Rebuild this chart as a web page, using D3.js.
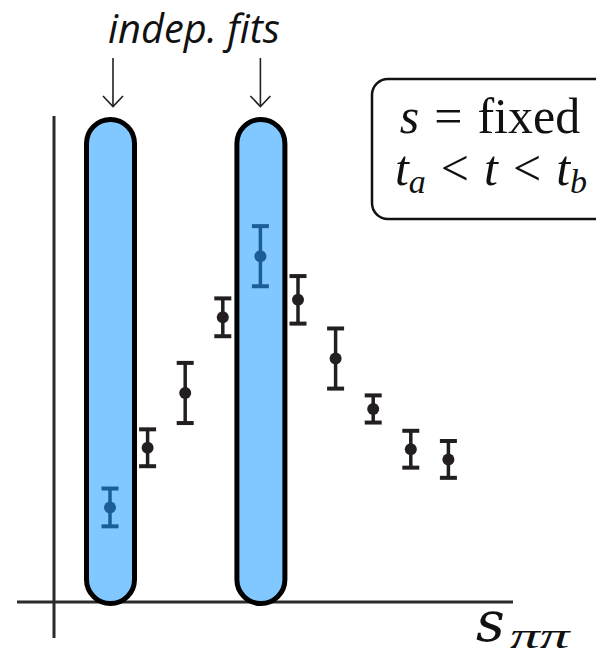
<!DOCTYPE html>
<html>
<head>
<meta charset="utf-8">
<script src="https://cdn.jsdelivr.net/npm/d3@7"></script>
<style>
  html, body { margin: 0; padding: 0; background: #fff; }
  svg { display: block; }
</style>
</head>
<body>
<svg id="chart" width="596" height="656"></svg>
<script>
// s_pipi bins, measured values and their uncertainties
const bins = [1, 2, 3, 4, 5, 6, 7, 8, 9, 10];
const values = [1.95, 3.18, 4.31, 5.87, 7.13, 6.23, 5.02, 3.98, 3.15, 2.94];
const errors = [0.39, 0.38, 0.62, 0.39, 0.62, 0.49, 0.62, 0.28, 0.38, 0.38];
// bins that are fitted independently
const fitBins = [1, 5];

const svg = d3.select("#chart");
const x = d3.scaleLinear().domain([1, 10]).range([110, 448.4]);
const y = d3.scaleLinear().domain([0, 10]).range([602, 117]);

const ink = "#231f20";
const blueFill = "#80c8ff";
const blueInk = "#1b5e96";

// axes
svg.append("line").attr("x1", 17).attr("x2", 513).attr("y1", y(0)).attr("y2", y(0))
  .attr("stroke", "#2b2b2b").attr("stroke-width", 3);
svg.append("line").attr("x1", 54).attr("x2", 54).attr("y1", 116).attr("y2", 638)
  .attr("stroke", "#2b2b2b").attr("stroke-width", 3);

// fit windows
const winW = 48;
svg.selectAll("rect.win").data(fitBins).join("rect")
  .attr("class", "win")
  .attr("x", d => x(d) + 0.5 - winW / 2)
  .attr("y", y(10) + 2.5)
  .attr("width", winW)
  .attr("height", y(0) - y(10) + 1.5 - 2.5)
  .attr("rx", winW / 2).attr("ry", winW / 2)
  .attr("fill", blueFill)
  .attr("stroke", "#000").attr("stroke-width", 5);

// data points with error bars
const pts = bins.map((b, i) => ({ b, v: values[i], e: errors[i], fit: fitBins.includes(b) }));
const g = svg.selectAll("g.pt").data(pts).join("g").attr("class", "pt")
  .attr("stroke", d => d.fit ? blueInk : ink)
  .attr("fill", d => d.fit ? blueInk : ink);
g.append("line")
  .attr("x1", d => x(d.b)).attr("x2", d => x(d.b))
  .attr("y1", d => y(d.v + d.e)).attr("y2", d => y(d.v - d.e))
  .attr("stroke-width", 3.5);
g.append("line")
  .attr("x1", d => x(d.b) - 8.5).attr("x2", d => x(d.b) + 8.5)
  .attr("y1", d => y(d.v + d.e)).attr("y2", d => y(d.v + d.e))
  .attr("stroke-width", 4);
g.append("line")
  .attr("x1", d => x(d.b) - 8.5).attr("x2", d => x(d.b) + 8.5)
  .attr("y1", d => y(d.v - d.e)).attr("y2", d => y(d.v - d.e))
  .attr("stroke-width", 4);
g.append("circle")
  .attr("cx", d => x(d.b)).attr("cy", d => y(d.v)).attr("r", 6)
  .attr("stroke", "none");

// arrows pointing at the fit windows
const arrowX = fitBins.map((b, i) => x(b) + (i === 0 ? 3 : 0));
arrowX.forEach(ax => {
  svg.append("line").attr("x1", ax).attr("x2", ax).attr("y1", 58).attr("y2", 106)
    .attr("stroke", ink).attr("stroke-width", 1.6);
  svg.append("path")
    .attr("d", `M${ax - 10},${96} L${ax},${106.5} L${ax + 10},${96}`)
    .attr("fill", "none").attr("stroke", ink).attr("stroke-width", 1.6);
});

// "indep. fits" label
const lab = svg.append("text")
  .attr("x", 194).attr("y", 43)
  .attr("text-anchor", "middle")
  .attr("font-family", "'Open Sans', sans-serif")
  .attr("font-style", "italic")
  .attr("font-size", 36)
  .attr("fill", "#111")
  .text("indep. fits");
const labW = lab.node().getComputedTextLength();
lab.attr("font-size", 36 * 172 / labW);

// kinematics box
svg.append("rect")
  .attr("x", 372).attr("y", 79).attr("width", 260).attr("height", 140)
  .attr("rx", 16).attr("ry", 16)
  .attr("fill", "#fff").attr("stroke", "#111").attr("stroke-width", 2.5);

const serif = "'Liberation Serif', 'Times New Roman', serif";
const fs = 50, sub = 34, gap = 15;
const t1 = svg.append("text").attr("x", 490).attr("y", 133)
  .attr("text-anchor", "middle").attr("font-family", serif).attr("font-size", fs).attr("fill", "#111");
t1.append("tspan").attr("font-style", "italic").text("s");
t1.append("tspan").attr("dx", gap).text("=");
t1.append("tspan").attr("dx", gap).text("fixed");

const t2 = svg.append("text").attr("x", 491).attr("y", 185)
  .attr("text-anchor", "middle").attr("font-family", serif).attr("font-size", fs).attr("fill", "#111");
t2.append("tspan").attr("font-style", "italic").text("t");
t2.append("tspan").attr("font-style", "italic").attr("font-size", sub).attr("dy", 8).text("a");
t2.append("tspan").attr("dy", -8).attr("dx", gap).text("<");
t2.append("tspan").attr("dx", gap).attr("font-style", "italic").text("t");
t2.append("tspan").attr("dx", gap).text("<");
t2.append("tspan").attr("dx", gap).attr("font-style", "italic").text("t");
t2.append("tspan").attr("font-style", "italic").attr("font-size", sub).attr("dy", 8).text("b");

// x-axis title: s with a pi-pi subscript
svg.append("text").attr("x", 476).attr("y", 641)
  .attr("font-family", "'DejaVu Serif', serif").attr("font-style", "italic")
  .attr("font-size", 56).attr("fill", "#111").text("s");
svg.append("text")
  .attr("transform", "translate(510,648) scale(1.65,1)")
  .attr("font-family", serif).attr("font-style", "italic")
  .attr("font-size", 36).attr("fill", "#111").text("ππ");
</script>
</body>
</html>
